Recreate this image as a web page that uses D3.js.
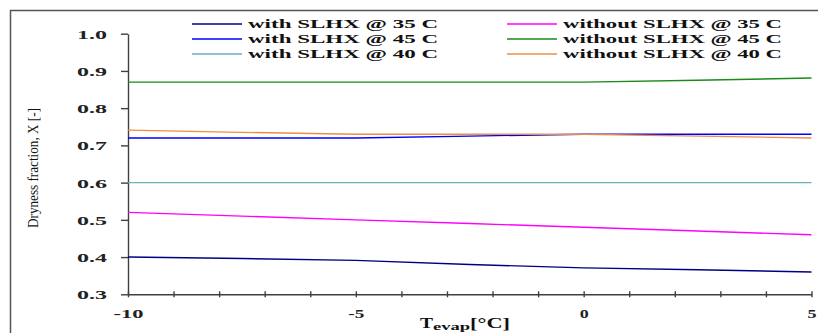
<!DOCTYPE html>
<meta charset="utf-8">
<style>
body { margin: 0; background: #fff; }
svg { display: block; }
.serif { font-family: "Liberation Serif", "DejaVu Serif", "Times New Roman", serif; }
.axis .tick text { font-family: "Liberation Serif", "DejaVu Serif", "Times New Roman", serif; font-weight: bold; font-size: 13px; fill: #222; }
.axis path, .axis line { stroke: #404040; stroke-width: 1.4; }
.legend text { font-family: "Liberation Serif", "DejaVu Serif", "Times New Roman", serif; font-weight: bold; font-size: 13px; fill: #111; }
.series { fill: none; stroke-width: 1.4; }
</style>
<svg width="818" height="333"></svg>
<script src="https://cdn.jsdelivr.net/npm/d3@7"></script>
<script>

// evaporating temperature, deg C
var tEvap = [-10, -7.5, -5, -2.5, 0, 2.5, 5];

var withSlhx35    = [0.400, 0.396, 0.391, 0.380, 0.371, 0.366, 0.360];
var withSlhx45    = [0.720, 0.720, 0.720, 0.725, 0.730, 0.730, 0.730];
var withSlhx40    = [0.600, 0.600, 0.600, 0.600, 0.600, 0.600, 0.600];
var withoutSlhx35 = [0.520, 0.510, 0.500, 0.490, 0.480, 0.470, 0.460];
var withoutSlhx45 = [0.870, 0.870, 0.870, 0.870, 0.870, 0.875, 0.881];
var withoutSlhx40 = [0.741, 0.735, 0.730, 0.730, 0.730, 0.725, 0.720];

var seriesNames = ["with SLHX @ 35 C", "with SLHX @ 45 C", "with SLHX @ 40 C",
                   "without SLHX @ 35 C", "without SLHX @ 45 C", "without SLHX @ 40 C"];
var seriesValues = [withSlhx35, withSlhx45, withSlhx40, withoutSlhx35, withoutSlhx45, withoutSlhx40];
var seriesColors = ["#000080", "#0000ff", "#6aafc0", "#ff00ff", "#1a8a1a", "#e8904a"];

var yTicks = [0.3, 0.4, 0.5, 0.6, 0.7, 0.8, 0.9, 1.0];
var xLabels = [-10, -5, 0, 5];

var svg = d3.select("svg");

// outer frame
svg.append("rect")
    .attr("x", 10.5).attr("y", 10.5)
    .attr("width", 830).attr("height", 340)
    .attr("fill", "none")
    .attr("stroke", "#555")
    .attr("stroke-width", 1.5);

var x = d3.scaleLinear().domain([-10, 5]).range([128, 811.5]);
var y = d3.scaleLinear().domain([0.3, 1.0]).range([294.3, 33.7]);

// y axis
var yAxis = svg.append("g")
    .attr("class", "axis")
    .attr("transform", "translate(" + x(-10) + ",0)")
    .call(d3.axisLeft(y).tickValues(yTicks).tickSize(7).tickSizeOuter(0)
      .tickFormat(d3.format(".1f")));
yAxis.attr("font-family", null).attr("font-size", null);
yAxis.selectAll(".tick text")
    .attr("x", -21)
    .attr("dy", "0.35em")
    .attr("textLength", 30)
    .attr("lengthAdjust", "spacingAndGlyphs");

// x axis, minor ticks every degree crossing the line
var xAxis = svg.append("g")
    .attr("class", "axis")
    .attr("transform", "translate(0," + y(0.3) + ")")
    .call(d3.axisBottom(x).tickValues(d3.range(-10, 6, 1)).tickSize(3).tickSizeOuter(0)
      .tickFormat(function(d) { return xLabels.indexOf(d) >= 0 ? d : ""; }));
xAxis.attr("font-family", null).attr("font-size", null);
xAxis.selectAll(".tick line").attr("y1", -3);
xAxis.selectAll(".tick text")
    .attr("y", 14)
    .attr("dy", "0.71em")
    .each(function(d) {
      var w = d === -10 ? 30 : (d === -5 ? 16 : 9);
      d3.select(this).attr("textLength", w).attr("lengthAdjust", "spacingAndGlyphs");
    });

// series lines
var line = d3.line()
    .x(function(d, i) { return x(tEvap[i]); })
    .y(function(d) { return y(d); });

// draw order: teal, magenta, navy, green, blue, orange
[2, 3, 0, 4, 1, 5].forEach(function(k) {
  svg.append("path")
      .datum(seriesValues[k])
      .attr("class", "series")
      .attr("stroke", seriesColors[k])
      .attr("d", line);
});

// legend in two columns
var legend = svg.append("g").attr("class", "legend");
seriesNames.forEach(function(name, i) {
  var col = Math.floor(i / 3), row = i % 3;
  var lx = col === 0 ? 192 : 507;
  var ly = 24 + row * 15;
  legend.append("line")
      .attr("x1", lx).attr("x2", lx + 50)
      .attr("y1", ly).attr("y2", ly)
      .attr("stroke", seriesColors[i])
      .attr("stroke-width", 1.5);
  legend.append("text")
      .attr("x", lx + 56)
      .attr("y", ly + 4)
      .attr("textLength", col === 0 ? 190 : 219)
      .attr("lengthAdjust", "spacingAndGlyphs")
      .text(name);
});

// axis titles
var xt = svg.append("text")
    .attr("class", "serif")
    .attr("x", 420)
    .attr("y", 328)
    .attr("font-weight", "bold")
    .attr("font-size", 14)
    .attr("fill", "#111");
xt.append("tspan").attr("textLength", 13).attr("lengthAdjust", "spacingAndGlyphs").text("T");
xt.append("tspan").attr("font-size", 10).attr("dy", 2).attr("textLength", 37).attr("lengthAdjust", "spacingAndGlyphs").text("evap");
xt.append("tspan").attr("dy", -2).attr("textLength", 40).attr("lengthAdjust", "spacingAndGlyphs").text("[°C]");

svg.append("text")
    .attr("class", "serif")
    .attr("transform", "translate(38,168) rotate(-90)")
    .attr("text-anchor", "middle")
    .attr("font-size", 15)
    .attr("fill", "#111")
    .attr("textLength", 120)
    .attr("lengthAdjust", "spacingAndGlyphs")
    .text("Dryness fraction, X [-]");

</script>
